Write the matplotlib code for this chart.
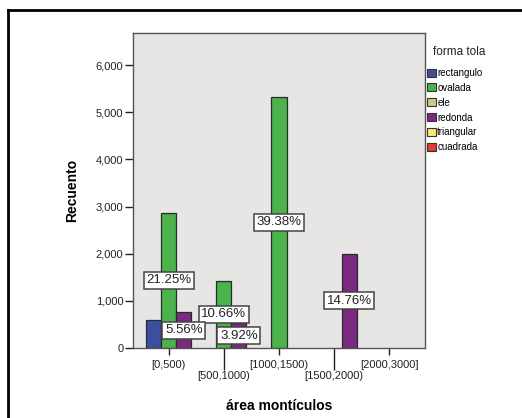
import numpy as np
import matplotlib
matplotlib.use('Agg')
import matplotlib.pyplot as plt
import matplotlib.patches as mpatches
from matplotlib.lines import Line2D

plt.rcParams['font.family'] = ['Liberation Sans', 'DejaVu Sans']

# data
intervalos = ['[0,500)', '[500,1000)', '[1000,1500)', '[1500,2000)', '[2000,3000]']
formas = ['rectangulo', 'ovalada', 'ele', 'redonda', 'triangular', 'cuadrada']
colores = ['#3E4E9E', '#4CB24C', '#D0C68C', '#7A2A80', '#F4EC6C', '#E33B36']

rectangulo = [600, 0, 0, 0, 0]
ovalada = [2870, 1430, 5330, 0, 0]
redonda = [755, 530, 0, 2000, 0]

# percentage labels shown on the chart (None = not shown)
pct_rectangulo = [None, None, None, None, None]
pct_ovalada = ['21.25%', '10.66%', '39.38%', None, None]
pct_redonda = ['5.56%', '3.92%', None, '14.76%', None]

fig = plt.figure(figsize=(5.22, 4.18), dpi=100)
ax = fig.add_axes([133/522, 70/418, 292/522, 315/418])
ax.set_facecolor('#E8E5E5')

x = np.arange(len(intervalos))
w = 0.273
series = [(rectangulo, pct_rectangulo, colores[0], -1),
          (ovalada, pct_ovalada, colores[1], 0),
          (redonda, pct_redonda, colores[3], 1)]

for vals, pcts, col, off in series:
    vals = np.array(vals, dtype=float)
    keep = vals > 0  # empty cells are not drawn
    bars = ax.bar(x[keep] + off * w, vals[keep], width=w, color=col, edgecolor='#2a2a2a',
                  linewidth=0.9, zorder=2)
    for b, v, p in zip(bars, vals[keep], np.array(pcts, dtype=object)[keep]):
        if p is None:
            continue
        ax.text(b.get_x() + b.get_width() / 2, v / 2, p, ha='center', va='center', fontsize=9.5,
                color='#222222', zorder=5,
                bbox=dict(boxstyle='square,pad=0.2', fc='white', ec='#444444', lw=1.1))

ax.set_xlim(-0.65, 4.65)
ax.set_ylim(0, 6680)
ax.set_yticks([0, 1000, 2000, 3000, 4000, 5000, 6000])
ax.set_yticklabels(['0', '1,000', '2,000', '3,000', '4,000', '5,000', '6,000'])
ax.set_xticks(x)
ax.set_xticklabels([lab if i % 2 == 0 else '\n' + lab for i, lab in enumerate(intervalos)])
ax.tick_params(axis='both', labelsize=8, colors='#222222', width=1.0)
ax.tick_params(axis='y', length=6, pad=1)
ax.tick_params(axis='x', length=5, pad=3.5)
for i, t in enumerate(ax.xaxis.get_major_ticks()):
    if i % 2 == 1:
        t.tick1line.set_markersize(16)

for s in ax.spines.values():
    s.set_color('#555555')
    s.set_linewidth(1.0)

ax.set_ylabel('Recuento', fontsize=10, fontweight='bold', labelpad=12)
ax.set_xlabel('área montículos', fontsize=10, fontweight='bold', labelpad=13)

handles = [mpatches.Patch(facecolor=c, edgecolor='#333333', linewidth=0.8, label=f)
           for f, c in zip(formas, colores)]
fig.text(433/522, 1 - 52/418, 'forma tola', fontsize=8.5, color='#222222', va='center', ha='left')
fig.legend(handles=handles, loc='upper left', bbox_to_anchor=(425/522, 1 - 66/418),
           frameon=False, fontsize=7, handlelength=0.9, handleheight=0.9, handletextpad=0.15,
           labelspacing=0.5, borderaxespad=0, borderpad=0.2)

# outer frame (top and left edges visible in the reference)
fig.add_artist(Line2D([8/522, 8/522], [0, 1 - 10/418], transform=fig.transFigure, color='black', lw=2))
fig.add_artist(Line2D([8/522, 1], [1 - 10/418, 1 - 10/418], transform=fig.transFigure, color='black', lw=2))

fig.savefig('out.png', dpi=100)
